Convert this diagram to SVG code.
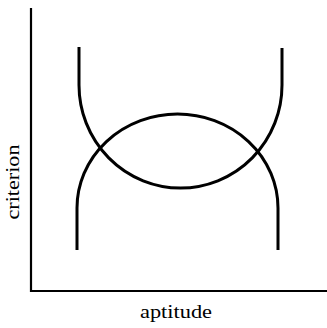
<svg xmlns="http://www.w3.org/2000/svg" width="327" height="328" viewBox="0 0 327 328">
<style>
.ax{stroke:#000;stroke-width:2.2;fill:none}
.cv{stroke:#000;stroke-width:3;fill:none;stroke-linecap:butt}
.lb{font-family:"Liberation Serif","Times New Roman",serif;font-size:18px;fill:#000}
</style>
<rect width="327" height="328" fill="#fff"/>
<g id="axes">
<path class="ax" d="M31,8 V291 H327"/>
</g>
<g id="connectors">
<path id="u-curve" class="cv" d="M79,47 V85 A101.5,103 0 0 0 282,85 V48"/>
<path id="n-curve" class="cv" d="M77,250 V208 A100.5,94 0 0 1 278,208 V250"/>
</g>
<g id="label-y">
<text class="lb" transform="translate(19,182) rotate(-90)" text-anchor="middle" textLength="75" lengthAdjust="spacingAndGlyphs">criterion</text>
</g>
<g id="label-x">
<text class="lb" x="176" y="318" text-anchor="middle" textLength="72" lengthAdjust="spacingAndGlyphs">aptitude</text>
</g>
</svg>
